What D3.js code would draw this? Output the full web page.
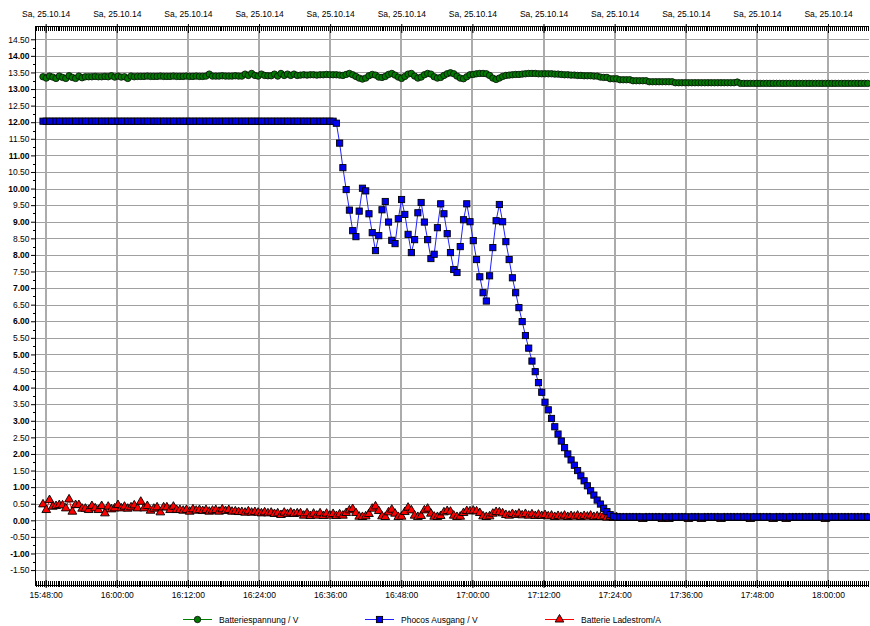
<!DOCTYPE html>
<html><head><meta charset="utf-8">
<script src="https://cdn.jsdelivr.net/npm/d3@7"></script>
<style>
body{margin:0;background:#fff}
svg{display:block}
text{font-family:"Liberation Sans",Arial,sans-serif;font-size:8.5px;fill:#000}
</style>
</head><body>
<svg id="c" width="870" height="626"></svg>
<script>
// ---- data ----
const sampleStart = [2014, 9, 25, 15, 47, 33]; // first sample time
const sampleSeconds = 33;                    // logging interval
const minorTickSeconds = 20;
const topLabel = "Sa, 25.10.14";
const xTickLabels = ["15:48:00","16:00:00","16:12:00","16:24:00","16:36:00","16:48:00","17:00:00","17:12:00","17:24:00","17:36:00","17:48:00","18:00:00"];
const yTickValues = [-1.5,-1.0,-0.5,0,0.5,1,1.5,2,2.5,3,3.5,4,4.5,5,5.5,6,6.5,7,7.5,8,8.5,9,9.5,10,10.5,11,11.5,12,12.5,13,13.5,14,14.5];
const seriesNames = ["Batteriespannung / V","Phocos Ausgang / V","Batterie Ladestrom/A"];

const batteriespannung = [
13.37,13.33,13.39,13.36,13.32,13.39,13.35,13.32,13.40,13.35,
13.32,13.39,13.34,13.37,13.37,13.37,13.38,13.37,13.37,13.38,
13.37,13.40,13.36,13.39,13.36,13.37,13.32,13.39,13.37,13.38,
13.38,13.38,13.39,13.38,13.38,13.38,13.39,13.38,13.38,13.38,
13.39,13.38,13.38,13.38,13.39,13.38,13.38,13.39,13.38,13.38,
13.39,13.45,13.39,13.39,13.39,13.40,13.39,13.39,13.39,13.40,
13.39,13.39,13.45,13.41,13.47,13.41,13.39,13.45,13.41,13.40,
13.40,13.45,13.39,13.47,13.41,13.45,13.41,13.45,13.41,13.42,
13.43,13.42,13.43,13.43,13.42,13.43,13.43,13.44,13.43,13.43,
13.43,13.42,13.41,13.44,13.47,13.43,13.38,13.33,13.30,13.33,
13.40,13.44,13.42,13.36,13.35,13.38,13.44,13.47,13.42,13.36,
13.32,13.38,13.45,13.47,13.39,13.33,13.36,13.43,13.47,13.45,
13.37,13.33,13.35,13.41,13.46,13.49,13.46,13.39,13.33,13.31,
13.37,13.43,13.44,13.46,13.47,13.47,13.46,13.41,13.33,13.29,
13.33,13.38,13.41,13.42,13.43,13.44,13.44,13.45,13.46,13.47,
13.47,13.47,13.46,13.46,13.46,13.46,13.46,13.45,13.45,13.44,
13.43,13.43,13.42,13.42,13.41,13.41,13.40,13.40,13.40,13.39,
13.39,13.36,13.35,13.35,13.31,13.31,13.31,13.28,13.28,13.28,
13.28,13.25,13.25,13.25,13.25,13.25,13.22,13.22,13.22,13.22,
13.22,13.22,13.22,13.22,13.19,13.19,13.19,13.19,13.19,13.19,
13.19,13.19,13.19,13.19,13.19,13.19,13.19,13.19,13.19,13.19,
13.19,13.19,13.19,13.21,13.17,13.17,13.17,13.17,13.17,13.17,
13.17,13.17,13.17,13.17,13.17,13.17,13.17,13.17,13.17,13.17,
13.17,13.17,13.17,13.17,13.17,13.17,13.17,13.17,13.17,13.17,
13.17,13.17,13.17,13.17,13.17,13.17,13.17,13.17,13.17,13.17,
13.17,13.17,13.17,13.17
];

const phocosAusgang = [
12.03,12.03,12.03,12.03,12.03,12.03,12.03,12.03,12.03,12.03,
12.03,12.03,12.03,12.03,12.03,12.03,12.03,12.03,12.03,12.03,
12.03,12.03,12.03,12.03,12.03,12.03,12.03,12.03,12.03,12.03,
12.03,12.03,12.03,12.03,12.03,12.03,12.03,12.03,12.03,12.03,
12.03,12.03,12.03,12.03,12.03,12.03,12.03,12.03,12.03,12.03,
12.03,12.03,12.03,12.03,12.03,12.03,12.03,12.03,12.03,12.03,
12.03,12.03,12.03,12.03,12.03,12.03,12.03,12.03,12.03,12.03,
12.03,12.03,12.03,12.03,12.03,12.03,12.03,12.03,12.03,12.03,
12.03,12.03,12.03,12.03,12.03,12.03,12.03,12.03,12.03,12.03,
11.97,11.37,10.63,9.97,9.35,8.73,8.55,9.32,10.01,9.93,
9.24,8.67,8.13,8.58,9.36,9.61,8.99,8.44,8.34,9.09,
9.67,9.22,8.62,8.07,8.46,9.27,9.58,8.99,8.46,7.89,
8.02,8.82,9.54,9.24,8.64,8.07,7.56,7.47,8.25,9.06,
9.54,9.00,8.43,7.86,7.34,6.86,6.61,7.37,8.22,9.03,
9.52,9.00,8.40,7.86,7.31,6.86,6.41,5.99,5.57,5.19,
4.80,4.48,4.15,3.86,3.56,3.33,3.07,2.82,2.60,2.39,
2.19,2.00,1.82,1.66,1.50,1.34,1.19,1.04,0.89,0.76,
0.61,0.49,0.36,0.26,0.17,0.12,0.10,0.10,0.10,0.10,
0.10,0.10,0.10,0.10,0.10,0.10,0.10,0.10,0.10,0.10,
0.10,0.10,0.10,0.10,0.10,0.10,0.10,0.10,0.10,0.10,
0.10,0.10,0.10,0.10,0.10,0.10,0.10,0.10,0.10,0.10,
0.10,0.10,0.10,0.10,0.10,0.10,0.10,0.10,0.10,0.10,
0.10,0.10,0.10,0.10,0.10,0.10,0.10,0.10,0.10,0.10,
0.10,0.10,0.10,0.10,0.10,0.10,0.10,0.10,0.10,0.10,
0.10,0.10,0.10,0.10,0.10,0.10,0.10,0.10,0.10,0.10,
0.10,0.10,0.10,0.10
];

const ladestrom = [
0.48,0.31,0.61,0.41,0.43,0.46,0.45,0.36,0.63,0.26,
0.46,0.46,0.35,0.35,0.31,0.43,0.36,0.31,0.43,0.21,
0.41,0.33,0.36,0.46,0.36,0.41,0.35,0.39,0.45,0.36,
0.56,0.36,0.43,0.29,0.35,0.39,0.24,0.39,0.39,0.31,
0.41,0.31,0.31,0.29,0.31,0.26,0.33,0.29,0.31,0.28,
0.31,0.26,0.29,0.31,0.26,0.33,0.28,0.31,0.26,0.27,
0.25,0.25,0.23,0.27,0.23,0.25,0.23,0.21,0.24,0.21,
0.23,0.19,0.21,0.16,0.23,0.19,0.23,0.19,0.21,0.21,
0.14,0.21,0.13,0.20,0.14,0.21,0.13,0.20,0.14,0.19,
0.13,0.18,0.14,0.22,0.30,0.34,0.22,0.11,0.10,0.12,
0.19,0.35,0.42,0.28,0.12,0.10,0.24,0.32,0.20,0.10,
0.11,0.25,0.38,0.30,0.14,0.10,0.13,0.30,0.35,0.20,
0.11,0.10,0.13,0.24,0.28,0.26,0.14,0.10,0.11,0.22,
0.28,0.27,0.29,0.27,0.22,0.12,0.10,0.12,0.20,0.25,
0.24,0.21,0.16,0.14,0.19,0.16,0.20,0.15,0.19,0.14,
0.18,0.13,0.17,0.13,0.16,0.12,0.14,0.10,0.13,0.11,
0.14,0.10,0.13,0.11,0.14,0.10,0.13,0.11,0.14,0.10,
0.12,0.10,0.12,0.08,0.10,0.07,0.09,0.07,0.07,0.07,
0.07,0.07,0.07,0.07,0.04,0.07,0.07,0.07,0.07,0.07,
0.04,0.07,0.04,0.07,0.07,0.07,0.07,0.07,0.04,0.07,
0.07,0.07,0.04,0.07,0.07,0.07,0.07,0.07,0.04,0.07,
0.07,0.07,0.07,0.07,0.07,0.07,0.07,0.04,0.07,0.07,
0.07,0.07,0.07,0.07,0.04,0.07,0.07,0.07,0.04,0.07,
0.07,0.07,0.07,0.07,0.07,0.07,0.07,0.07,0.07,0.07,
0.04,0.07,0.07,0.07,0.07,0.07,0.07,0.07,0.07,0.07,
0.07,0.07,0.07,0.07
];

// ---- layout ----
const L = 35, R = 869, T = 26.5, B = 585;
const svg = d3.select("#c");
const t0 = new Date(...sampleStart);
const timeOf = i => new Date(t0.getTime() + i * sampleSeconds * 1000);
const parseHMS = s => { const p = s.split(":").map(Number); return new Date(2014, 9, 25, p[0], p[1], p[2]); };

const x = d3.scaleTime()
  .domain([new Date(2014, 9, 25, 15, 46, 12), new Date(2014, 9, 25, 18, 6, 55)])
  .range([L, R]);
const y = d3.scaleLinear().domain([-1.95, 14.9]).range([B, 26]);

const xMajor = xTickLabels.map(parseHMS);

// grid
svg.append("g").selectAll("line").data(yTickValues).join("line")
  .attr("x1", L).attr("x2", R)
  .attr("y1", d => Math.round(y(d)) + 0.5).attr("y2", d => Math.round(y(d)) + 0.5)
  .attr("stroke", "#a0a0a0").attr("stroke-width", 1);
svg.append("g").selectAll("line").data(xMajor).join("line")
  .attr("x1", d => Math.round(x(d))).attr("x2", d => Math.round(x(d)))
  .attr("y1", T).attr("y2", B)
  .attr("stroke", "#ababab").attr("stroke-width", 2);

// minor ticks (every 20 s) on top & bottom, via d3 axes
const stepMs = minorTickSeconds * 1000;
const d0 = x.domain()[0].getTime(), d1 = x.domain()[1].getTime();
const firstMinor = xMajor[0].getTime() - Math.floor((xMajor[0].getTime() - d0) / stepMs) * stepMs;
const minorTimes = [];
for (let ms = firstMinor; ms < d1; ms += stepMs) minorTimes.push(new Date(ms));

const gMinB = svg.append("g").attr("transform", `translate(0,${B})`)
  .call(d3.axisBottom(x).tickValues(minorTimes).tickFormat(() => "").tickSizeInner(4).tickSizeOuter(0));
gMinB.select(".domain").remove();
gMinB.selectAll(".tick line").attr("y1", -4).attr("y2", 1.5).attr("stroke", "#000").attr("stroke-width", 1).attr("shape-rendering", "crispEdges");

const gMinT = svg.append("g").attr("transform", `translate(0,${T})`)
  .call(d3.axisBottom(x).tickValues(minorTimes).tickFormat(() => "").tickSizeInner(4.5).tickSizeOuter(0));
gMinT.select(".domain").remove();
gMinT.selectAll(".tick line").attr("y1", 0).attr("y2", 4.5).attr("stroke", "#000").attr("stroke-width", 1).attr("shape-rendering", "crispEdges");

// bottom axis
const gB = svg.append("g").attr("transform", `translate(0,${B})`)
  .call(d3.axisBottom(x).tickValues(xMajor).tickFormat(d3.timeFormat("%H:%M:%S")).tickSizeOuter(0));
gB.select(".domain").remove();
gB.selectAll(".tick line").attr("y1", -5).attr("y2", 3).attr("stroke", "#000");
gB.selectAll(".tick text").attr("y", 7).style("font-size", "8.5px").style("font-family", "Liberation Sans, Arial, sans-serif").attr("fill", "#000");

// top axis
const gT = svg.append("g").attr("transform", `translate(0,${T})`)
  .call(d3.axisTop(x).tickValues(xMajor).tickFormat(() => topLabel).tickSizeOuter(0));
gT.select(".domain").remove();
gT.selectAll(".tick line").attr("y1", -2.5).attr("y2", 6.5).attr("stroke", "#000");
gT.selectAll(".tick text").attr("y", -9.3).style("font-size", "8.5px").style("font-family", "Liberation Sans, Arial, sans-serif").attr("fill", "#000");

// left axis
const fmt = v => (v < 0 ? "-" : "") + Math.abs(v).toFixed(2);
const gL = svg.append("g").attr("transform", `translate(${L},0)`)
  .call(d3.axisLeft(y).tickValues(yTickValues).tickFormat(fmt).tickSize(4).tickPadding(1.5).tickSizeOuter(0));
gL.select(".domain").remove();
gL.selectAll(".tick line").attr("stroke", "#000");
gL.selectAll(".tick text").style("font-size", "8.5px").style("font-family", "Liberation Sans, Arial, sans-serif")
  .attr("fill", "#000").style("font-weight", d => Number.isInteger(d) ? "bold" : "normal");
const yMinor = yTickValues.slice(0, -1).map(v => v + 0.25);
svg.append("g").selectAll("line").data(yMinor).join("line")
  .attr("x1", L - 2).attr("x2", L).attr("y1", d => Math.round(y(d)) + 0.5).attr("y2", d => Math.round(y(d)) + 0.5)
  .attr("stroke", "#000");

// axis lines
svg.append("line").attr("x1", L + 0.5).attr("x2", L + 0.5).attr("y1", T).attr("y2", B + 1).attr("stroke", "#000");
svg.append("line").attr("x1", L).attr("x2", R).attr("y1", B + 0.5).attr("y2", B + 0.5).attr("stroke", "#000");
svg.append("line").attr("x1", L).attr("x2", R).attr("y1", T).attr("y2", T).attr("stroke", "#000");

// series
const line = d3.line().x(d => x(d.t)).y(d => y(d.v));
const toPts = arr => arr.map((v, i) => ({ t: timeOf(i), v }));
const redPts = toPts(ladestrom), greenPts = toPts(batteriespannung), bluePts = toPts(phocosAusgang);

const triPath = d3.symbol().type(d3.symbolTriangle).size(33)();
const plot = svg.append("g");
const SQ = 6.2, CR = 3.2;

// red
plot.append("path").datum(redPts).attr("d", line).attr("fill", "none").attr("stroke", "#ff0000").attr("stroke-width", 1);
plot.append("g").selectAll("path").data(redPts).join("path")
  .attr("d", triPath).attr("transform", d => `translate(${x(d.t)},${y(d.v)})`)
  .attr("fill", "#ff0000").attr("stroke", "#000").attr("stroke-width", 0.9);
// green
plot.append("path").datum(greenPts).attr("d", line).attr("fill", "none").attr("stroke", "#008000").attr("stroke-width", 1);
plot.append("g").selectAll("circle").data(greenPts).join("circle")
  .attr("cx", d => x(d.t)).attr("cy", d => y(d.v)).attr("r", CR)
  .attr("fill", "#007a00").attr("stroke", "#0a1a0a").attr("stroke-width", 0.9);
// blue
plot.append("path").datum(bluePts).attr("d", line).attr("fill", "none").attr("stroke", "#2020ff").attr("stroke-width", 1);
plot.append("g").selectAll("rect").data(bluePts).join("rect")
  .attr("x", d => x(d.t) - SQ / 2).attr("y", d => y(d.v) - SQ / 2).attr("width", SQ).attr("height", SQ)
  .attr("fill", "#0000f0").attr("stroke", "#000").attr("stroke-width", 0.9);

// legend
const leg = svg.append("g");
const legX = [183, 365, 545];
const legY = 619.5;
const legColors = ["#008000", "#2020ff", "#ff0000"];
seriesNames.forEach((name, k) => {
  const lx = legX[k];
  leg.append("line").attr("x1", lx).attr("x2", lx + 29).attr("y1", legY).attr("y2", legY).attr("stroke", legColors[k]);
  const cx = lx + 14.5;
  if (k === 0) leg.append("circle").attr("cx", cx).attr("cy", legY).attr("r", CR).attr("fill", "#007a00").attr("stroke", "#0a1a0a").attr("stroke-width", 0.9);
  if (k === 1) leg.append("rect").attr("x", cx - SQ / 2).attr("y", legY - SQ / 2).attr("width", SQ).attr("height", SQ).attr("fill", "#0000f0").attr("stroke", "#000").attr("stroke-width", 0.9);
  if (k === 2) leg.append("path").attr("d", triPath).attr("transform", `translate(${cx},${legY})`).attr("fill", "#ff0000").attr("stroke", "#000").attr("stroke-width", 0.9);
  leg.append("text").attr("x", lx + 36).attr("y", legY + 3).text(name);
});
</script>
</body></html>
